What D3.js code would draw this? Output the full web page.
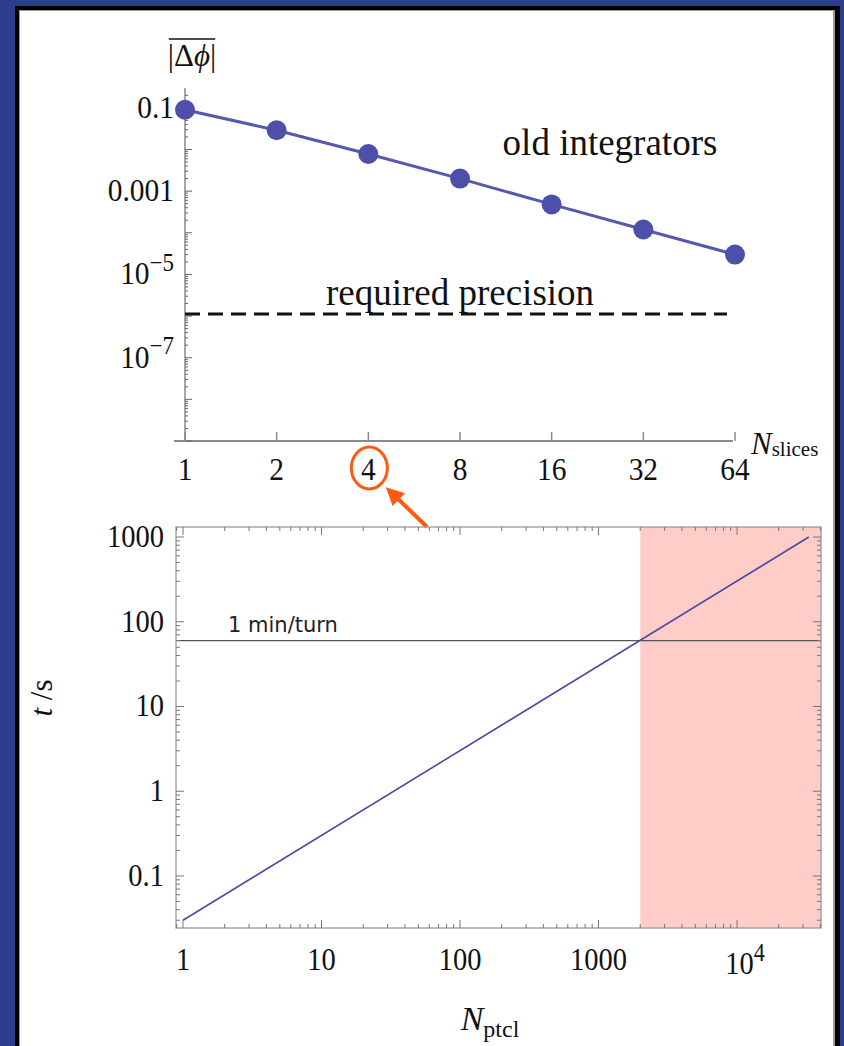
<!DOCTYPE html>
<html>
<head>
<meta charset="utf-8">
<script src="https://cdn.jsdelivr.net/npm/d3@7"></script>
<style>
  body { margin: 0; background: #2c3d8c; }
  svg { display: block; }
</style>
</head>
<body>
<div id="chart"></div>
<script>
// top panel: phase error vs number of slices
var slices = [1, 2, 4, 8, 16, 32, 64];
var dphi = [0.09, 0.029, 0.0078, 0.002, 0.00048, 0.00012, 0.00003];
var requiredPrecision = 1.12e-6;
var topYTicks = [0.1, 0.001, 1e-5, 1e-7];

// bottom panel: run time vs number of particles
var nptcl = [1, 33000];
var tsec = [0.03, 1000];
var turnTime = 60;
var shadeFrom = 2000;
var botXTicks = [1, 10, 100, 1000, 10000];
var botYTicks = [0.1, 1, 10, 100, 1000];

window.onload = function () {
	var width = 844, height = 1046;
	var serif = '"Liberation Serif", "Times New Roman", serif';
	var squeeze = 0.92;

	var svg = d3.select('#chart').append('svg')
		.attr('width', width)
		.attr('height', height);

	// slide frame
	svg.append('rect').attr('x', 0).attr('y', 0).attr('width', width).attr('height', height).attr('fill', '#2c3d8c');
	svg.append('rect').attr('x', 15).attr('y', 6).attr('width', 825).attr('height', 1060).attr('fill', '#000');
	svg.append('rect').attr('x', 19).attr('y', 10).attr('width', 816).attr('height', 1060).attr('fill', '#9a9a9a');
	svg.append('rect').attr('x', 20).attr('y', 11).attr('width', 813).attr('height', 1060).attr('fill', '#fff');

	function label(g, x, y, str, size, anchor, sup) {
		var t = g.append('text')
			.attr('transform', 'translate(' + x + ',' + y + ') scale(' + squeeze + ',1)')
			.attr('text-anchor', anchor)
			.attr('font-family', serif)
			.attr('font-size', size)
			.attr('fill', '#111');
		t.append('tspan').text(str);
		if (sup) {
			t.append('tspan').attr('font-size', size * 0.78).attr('dy', -size * 0.42).text(sup);
		}
		return t;
	}

	function powLabel(v) {
		var e = Math.round(Math.log10(v));
		if (v >= 0.001 && v <= 1000) return [String(+v.toPrecision(3)), null];
		return ['10', e < 0 ? '\u2212' + (-e) : String(e)];
	}

	function minorTicks(lo, hi) {
		var out = [];
		for (var e = Math.floor(Math.log10(lo)); e <= Math.ceil(Math.log10(hi)); e++) {
			for (var k = 1; k < 10; k++) {
				var v = k * Math.pow(10, e);
				if (v >= lo && v <= hi) out.push({ v: v, major: k == 1 });
			}
		}
		return out;
	}

	// ---------- top chart ----------
	var top = svg.append('g');
	var xTop = d3.scaleLog().base(2).domain([1, 64]).range([185, 735]);
	var yTop = d3.scaleLog().domain([1e-9, 0.3]).range([441, 88]);
	var axisColor = '#8a8a8a';

	top.append('line').attr('x1', 185).attr('x2', 185).attr('y1', 88).attr('y2', 441)
		.attr('stroke', axisColor).attr('stroke-width', 1.5);
	top.append('line').attr('x1', 174).attr('x2', 733).attr('y1', 441).attr('y2', 441)
		.attr('stroke', axisColor).attr('stroke-width', 2);

	var yticks = minorTicks(1e-9, 0.3);
	top.selectAll('.ytick').data(yticks).enter().append('line')
		.attr('x1', 185)
		.attr('x2', function (d) { return 185 + (d.major ? 7 : 3); })
		.attr('y1', function (d) { return yTop(d.v); })
		.attr('y2', function (d) { return yTop(d.v); })
		.attr('stroke', '#666').attr('stroke-width', 1);

	topYTicks.forEach(function (v) {
		var p = powLabel(v);
		label(top, 174, yTop(v) + 10, p[0], 32, 'end', p[1]);
	});

	top.selectAll('.xtick').data(slices).enter().append('line')
		.attr('x1', function (d) { return xTop(d); })
		.attr('x2', function (d) { return xTop(d); })
		.attr('y1', 441).attr('y2', 432)
		.attr('stroke', axisColor).attr('stroke-width', 1.5);

	slices.forEach(function (v) {
		label(top, xTop(v), 480, String(v), 32, 'middle');
	});

	var nsl = top.append('text').attr('x', 751).attr('y', 454)
		.attr('font-family', serif).attr('fill', '#111');
	nsl.append('tspan').attr('font-size', 31).attr('font-style', 'italic').text('N');
	nsl.append('tspan').attr('font-size', 21).attr('dy', 2).text('slices');

	// y label with overline
	var yl = top.append('text').attr('x', 192).attr('y', 66).attr('text-anchor', 'middle')
		.attr('font-family', serif).attr('font-size', 31).attr('fill', '#111');
	yl.append('tspan').text('|\u0394');
	yl.append('tspan').attr('font-style', 'italic').text('\u03d5');
	yl.append('tspan').text('|');
	var bb = yl.node().getBBox();
	top.append('line').attr('x1', bb.x + 1).attr('x2', bb.x + bb.width - 1)
		.attr('y1', bb.y + 1).attr('y2', bb.y + 1).attr('stroke', '#111').attr('stroke-width', 1.3);

	// required precision
	top.append('line')
		.attr('x1', xTop(1)).attr('x2', 727)
		.attr('y1', yTop(requiredPrecision)).attr('y2', yTop(requiredPrecision))
		.attr('stroke', '#111').attr('stroke-width', 3)
		.attr('stroke-dasharray', '15,8');
	top.append('text').attr('x', 460).attr('y', 305).attr('text-anchor', 'middle')
		.attr('font-family', serif).attr('font-size', 37).attr('fill', '#111')
		.text('required precision');
	top.append('text').attr('x', 610).attr('y', 155).attr('text-anchor', 'middle')
		.attr('font-family', serif).attr('font-size', 37).attr('fill', '#111')
		.text('old integrators');

	var pts = slices.map(function (s, i) { return [s, dphi[i]]; });
	var line = d3.line()
		.x(function (d) { return xTop(d[0]); })
		.y(function (d) { return yTop(d[1]); });
	top.append('path').attr('d', line(pts))
		.attr('fill', 'none').attr('stroke', '#5558ae').attr('stroke-width', 3);
	top.selectAll('.dot').data(pts).enter().append('circle')
		.attr('cx', function (d) { return xTop(d[0]); })
		.attr('cy', function (d) { return yTop(d[1]); })
		.attr('r', 10)
		.attr('fill', '#4d50a8');

	// highlight on "4"
	var orange = '#ff5a10';
	top.append('ellipse').attr('cx', xTop(4) + 1).attr('cy', 468).attr('rx', 18).attr('ry', 21)
		.attr('fill', 'none').attr('stroke', orange).attr('stroke-width', 3);
	var defs = svg.append('defs');
	defs.append('marker').attr('id', 'head').attr('viewBox', '0 0 10 10')
		.attr('refX', 3).attr('refY', 5).attr('markerWidth', 4.5).attr('markerHeight', 4.5)
		.attr('orient', 'auto')
		.append('path').attr('d', 'M0,0 L10,5 L0,10 z').attr('fill', orange);
	top.append('line').attr('x1', 427).attr('y1', 527).attr('x2', 395).attr('y2', 496)
		.attr('stroke', orange).attr('stroke-width', 4).attr('marker-end', 'url(#head)');

	// ---------- bottom chart ----------
	var bot = svg.append('g');
	var x0 = 176, x1 = 821, y0 = 527, y1 = 928;
	var xB = d3.scaleLog().domain([0.89, 40400]).range([x0, x1]);
	var yB = d3.scaleLog().domain([0.0243, 1313]).range([y1, y0]);

	bot.append('rect').attr('x', xB(shadeFrom)).attr('y', y0)
		.attr('width', x1 - xB(shadeFrom)).attr('height', y1 - y0)
		.attr('fill', '#ffcdc8');

	bot.append('line').attr('x1', x0).attr('x2', x1)
		.attr('y1', yB(turnTime)).attr('y2', yB(turnTime))
		.attr('stroke', '#555').attr('stroke-width', 1.3);
	bot.append('text').attr('x', 228).attr('y', 632)
		.attr('font-family', '"DejaVu Sans", sans-serif').attr('font-size', 21).attr('fill', '#222')
		.text('1 min/turn');

	var tl = nptcl.map(function (n, i) { return [n, tsec[i]]; });
	var line2 = d3.line()
		.x(function (d) { return xB(d[0]); })
		.y(function (d) { return yB(d[1]); });
	bot.append('path').attr('d', line2(tl))
		.attr('fill', 'none').attr('stroke', '#4b4ba2').attr('stroke-width', 1.6);

	// frame and ticks on all four sides
	bot.append('rect').attr('x', x0).attr('y', y0).attr('width', x1 - x0).attr('height', y1 - y0)
		.attr('fill', 'none').attr('stroke', '#999').attr('stroke-width', 1.3);

	var xt = minorTicks(0.89, 40400);
	[y1, y0].forEach(function (yy, side) {
		var dir = side == 0 ? -1 : 1;
		bot.selectAll('.xt' + side).data(xt).enter().append('line')
			.attr('x1', function (d) { return xB(d.v); })
			.attr('x2', function (d) { return xB(d.v); })
			.attr('y1', yy)
			.attr('y2', function (d) { return yy + dir * (d.major ? 8 : 4); })
			.attr('stroke', '#777').attr('stroke-width', 1);
	});
	var yt = minorTicks(0.0243, 1313);
	[x0, x1].forEach(function (xx, side) {
		var dir = side == 0 ? 1 : -1;
		bot.selectAll('.yt' + side).data(yt).enter().append('line')
			.attr('x1', xx)
			.attr('x2', function (d) { return xx + dir * (d.major ? 8 : 4); })
			.attr('y1', function (d) { return yB(d.v); })
			.attr('y2', function (d) { return yB(d.v); })
			.attr('stroke', '#777').attr('stroke-width', 1);
	});

	botXTicks.forEach(function (v) {
		var p = v >= 10000 ? ['10', '4'] : [String(v), null];
		label(bot, xB(v) + (p[1] ? 8 : 0), p[1] ? 974 : 970, p[0], 31, 'middle', p[1]);
	});
	botYTicks.forEach(function (v) {
		label(bot, 164, yB(v) + 10, String(v), 31, 'end');
	});

	var nx = bot.append('text').attr('x', 490).attr('y', 1030).attr('text-anchor', 'middle')
		.attr('font-family', serif).attr('fill', '#111');
	nx.append('tspan').attr('font-size', 34).attr('font-style', 'italic').text('N');
	nx.append('tspan').attr('font-size', 24).attr('dy', 7).text('ptcl');

	var ty = bot.append('text').attr('transform', 'translate(52,698) rotate(-90)')
		.attr('text-anchor', 'middle').attr('font-family', serif).attr('font-size', 31).attr('fill', '#111');
	ty.append('tspan').attr('font-style', 'italic').text('t');
	ty.append('tspan').text(' /s');
};
</script>
</body>
</html>
